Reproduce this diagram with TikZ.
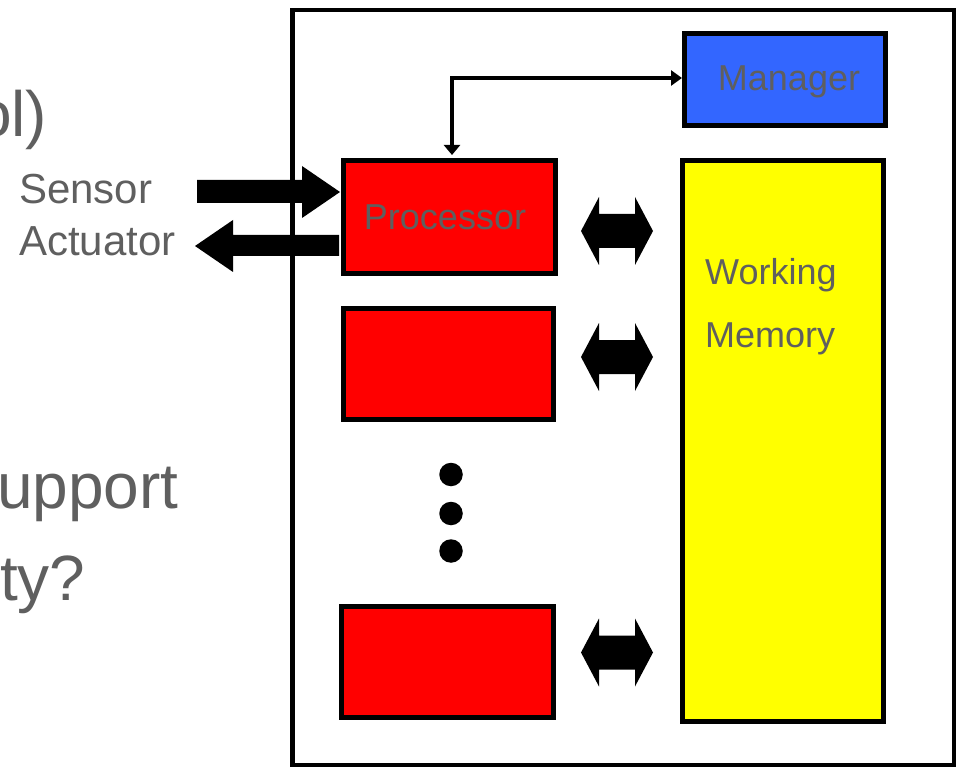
\documentclass[tikz,border=0pt]{standalone}
\usepackage{fontspec}
\setmainfont{Liberation Sans}
\usetikzlibrary{arrows.meta}
\definecolor{txtgray}{HTML}{5F5F5F}
\definecolor{boxred}{HTML}{FF0000}
\definecolor{boxyellow}{HTML}{FFFF00}
\definecolor{boxblue}{HTML}{3366FF}
\tikzset{
  box/.style={draw=black, line width=5pt, rectangle, inner sep=0pt},
  boxlabel/.style={text=txtgray, font=\fontsize{36}{36}\selectfont},
  bigtxt/.style={text=txtgray, font=\fontsize{64}{64}\selectfont, inner sep=0pt, anchor=base west},
  sidetxt/.style={text=txtgray, font=\fontsize{42}{42}\selectfont, inner sep=0pt, anchor=base west},
  blockarrow/.style={fill=black, draw=none},
  dot/.style={circle, fill=black, minimum size=23.5pt, inner sep=0pt},
}
\begin{document}
\begin{tikzpicture}[x=1pt,y=-1pt]
\useasboundingbox (0,0) rectangle (959,770);
\clip (0,0) rectangle (959,770);
% outer frame
\node[box, line width=4.5pt, fill=white, minimum width=661.5pt, minimum height=754.5pt] (frame) at (623,387.5) {};
% boxes
\node[box, fill=boxblue, minimum width=201pt, minimum height=92pt] (mgr) at (785,79.5) {};
\node[boxlabel, inner sep=0pt, anchor=base] (mgrtxt) at (789,91) {Manager};
\node[box, fill=boxred, minimum width=212pt, minimum height=113pt] (proc) at (449.5,217) {};
\node[boxlabel, inner sep=0pt, anchor=base] (proctxt) at (445,230) {Processor};
\node[box, fill=boxred, minimum width=210pt, minimum height=111pt] (red2) at (448.5,364) {};
\node[box, fill=boxred, minimum width=212pt, minimum height=111pt] (red3) at (447.5,662) {};
\node[box, fill=boxyellow, minimum width=201pt, minimum height=561pt] (wm) at (783,441) {};
\node[boxlabel, inner sep=0pt, anchor=base west] (wmt1) at (705,285) {Working};
\node[boxlabel, inner sep=0pt, anchor=base west] (wmt2) at (705,347) {Memory};
% manager connector
\coordinate (corner) at (452,78);
\coordinate (procin) at (452,155);
\draw[line width=4pt, {Triangle[length=10pt,width=16pt]}-{Triangle[length=11pt,width=15pt]}]
  (procin) -- (corner) -- (corner -| mgr.west);
% dots
\node[dot] (d1) at (451,474.5) {};
\node[dot] (d2) at (451,513.5) {};
\node[dot] (d3) at (451,551) {};
% double arrows
\foreach \yy/\nm in {231/a1,357/a2,652.5/a3}{
  \fill[blockarrow] (581,\yy) -- (599,\yy-34) -- (599,\yy-17) -- (635,\yy-17) -- (635,\yy-34)
    -- (653,\yy) -- (635,\yy+34) -- (635,\yy+17) -- (599,\yy+17) -- (599,\yy+34) -- cycle;
}
% sensor arrow
\fill[blockarrow] (197,180) -- (302,180) -- (302,166) -- (340,192) -- (302,218) -- (302,203) -- (197,203) -- cycle;
% actuator arrow
\fill[blockarrow] (339,235) -- (233,235) -- (233,220) -- (195,246) -- (233,272) -- (233,256) -- (339,256) -- cycle;
% side texts
\node[sidetxt] (sensor) at (19,204) {Sensor};
\node[sidetxt] (actuator) at (19,256) {Actuator};
% clipped large texts
\node[bigtxt] (t1) at (-24,137) {ol)};
\node[bigtxt] (t2) at (-3,508) {upport};
\node[bigtxt] (t3) at (0,600) {ty?};
\end{tikzpicture}
\end{document}
